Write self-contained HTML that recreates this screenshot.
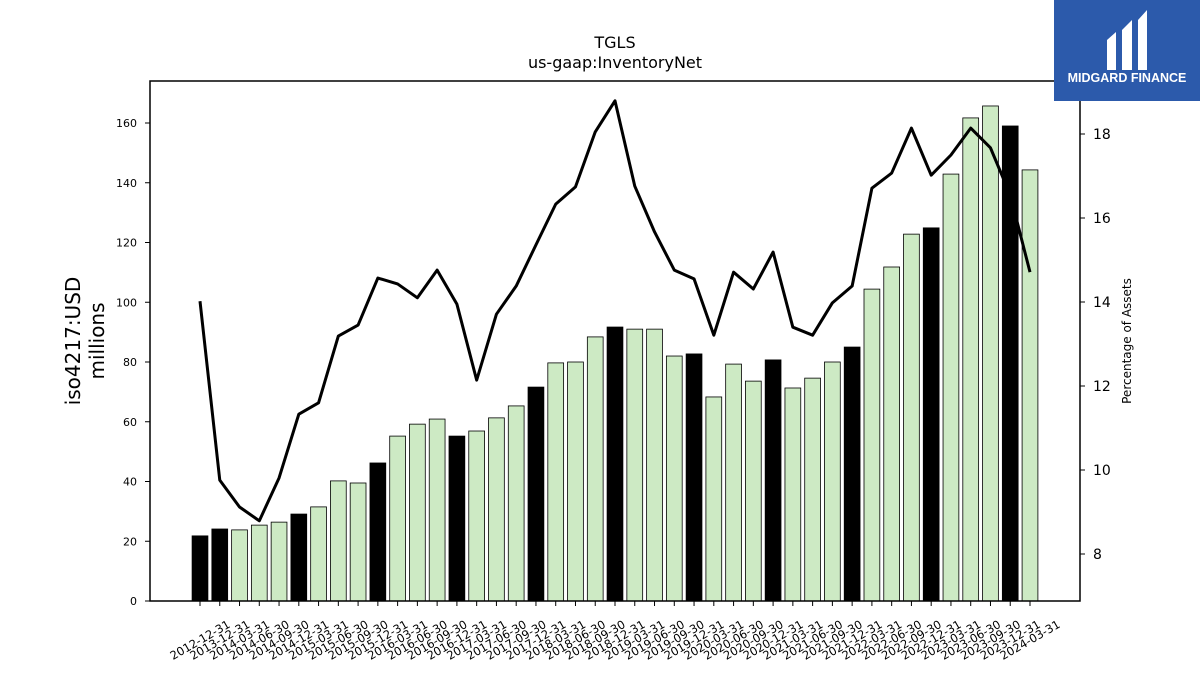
<!DOCTYPE html>
<html><head><meta charset="utf-8"><style>
body{margin:0;background:#fff;}
svg{display:block;font-family:"DejaVu Sans","Liberation Sans",sans-serif;}
</style></head><body>
<svg id="c" width="1200" height="675" viewBox="0 0 1200 675">
<text x="615" y="48" font-size="16" text-anchor="middle">TGLS</text>
<text x="615" y="68" font-size="16" text-anchor="middle">us-gaap:InventoryNet</text>
<g id="bars"></g>
<g id="line"></g>
<rect x="150" y="81" width="930" height="520" fill="none" stroke="#000" stroke-width="1.5"/>
<g id="yl"></g>
<g id="yr"></g>
<g id="xl"></g>
<text transform="translate(80,341) rotate(-90)" font-size="20" text-anchor="middle"><tspan x="0" dy="0">iso4217:USD</tspan><tspan x="0" dy="24">millions</tspan></text>
<text transform="translate(1131,341) rotate(-90)" font-size="12" text-anchor="middle">Percentage of Assets</text>
<g>
<rect x="1054" y="0" width="146" height="101" fill="#2c5aab"/>
<path d="M1107 40 L1116 32 L1116 70 L1107 70 Z M1122 30 L1132 20 L1132 70 L1122 70 Z M1138 20 L1147 10 L1147 70 L1138 70 Z" fill="#fff"/>
<text x="1127" y="82" font-size="12.5" font-weight="bold" fill="#fff" text-anchor="middle" font-family="Liberation Sans, sans-serif">MIDGARD FINANCE</text>
</g>
</svg>
<script>
const categories=["2012-12-31","2013-12-31","2014-03-31","2014-06-30","2014-09-30","2014-12-31","2015-03-31","2015-06-30","2015-09-30","2015-12-31","2016-03-31","2016-06-30","2016-09-30","2016-12-31","2017-03-31","2017-06-30","2017-09-30","2017-12-31","2018-03-31","2018-06-30","2018-09-30","2018-12-31","2019-03-31","2019-06-30","2019-09-30","2019-12-31","2020-03-31","2020-06-30","2020-09-30","2020-12-31","2021-03-31","2021-06-30","2021-09-30","2021-12-31","2022-03-31","2022-06-30","2022-09-30","2022-12-31","2023-03-31","2023-06-30","2023-09-30","2023-12-31","2024-03-31"];
const inventory=[21.8,24.1,23.8,25.4,26.4,29.1,31.5,40.2,39.5,46.2,55.2,59.2,60.9,55.2,56.9,61.3,65.3,71.6,79.7,80.0,88.4,91.7,91.0,91.0,82.0,82.7,68.3,79.3,73.6,80.7,71.3,74.6,80.0,85.0,104.4,111.8,122.8,124.9,142.9,161.7,165.7,159.0,144.3];
const pctAssets=[14.02,9.76,9.12,8.79,9.81,11.33,11.6,13.19,13.45,14.57,14.43,14.1,14.76,13.95,12.14,13.71,14.38,15.36,16.33,16.74,18.05,18.79,16.76,15.67,14.76,14.55,13.21,14.71,14.31,15.19,13.4,13.21,13.98,14.38,16.71,17.07,18.14,17.02,17.5,18.14,17.67,16.55,14.71];
const leftTicks=[0,20,40,60,80,100,120,140,160];
const rightTicks=[8,10,12,14,16,18];
const NS="http://www.w3.org/2000/svg";
const x0=200,x1=1030;
const X=i=>x0+(x1-x0)*i/(categories.length-1);
const YL=v=>601-v*(601-123)/160;
const YR=v=>554-(v-8)*42;
function mk(t,a,p){const e=document.createElementNS(NS,t);for(const k in a)e.setAttribute(k,a[k]);p.appendChild(e);return e;}
const bars=document.getElementById('bars');
const bw=(x1-x0)/(categories.length-1)*0.8;
inventory.forEach((v,i)=>{
 const annual=categories[i].endsWith("12-31");
 const r=mk('rect',{x:X(i)-bw/2,y:YL(v),width:bw,height:601-YL(v),fill:annual?'#000':'#cdeac4',stroke:'#000','stroke-width':0.8},bars);
 
 
});
const lg=document.getElementById('line');
const p=mk('polyline',{points:pctAssets.map((v,i)=>X(i)+','+YR(v)).join(' '),fill:'none',stroke:'#000','stroke-width':3,'stroke-linejoin':'round'},lg);


const yl=document.getElementById('yl');
leftTicks.forEach(v=>{
 mk('line',{x1:145,x2:150,y1:YL(v),y2:YL(v),stroke:'#000'},yl);
 const t=mk('text',{x:137,y:YL(v)+4,'font-size':11,'text-anchor':'end'},yl);t.textContent=v;
 
 
});
const yr=document.getElementById('yr');
rightTicks.forEach(v=>{
 mk('line',{x1:1080,x2:1085,y1:YR(v),y2:YR(v),stroke:'#000'},yr);
 const t=mk('text',{x:1093,y:YR(v)+5,'font-size':14},yr);t.textContent=v;
 
 
});
const xl=document.getElementById('xl');
categories.forEach((c,i)=>{
 mk('line',{x1:X(i),x2:X(i),y1:601,y2:606,stroke:'#000'},xl);
 const t=mk('text',{transform:`translate(${X(i)},${640}) rotate(-30)`,'font-size':11.5,'text-anchor':'middle',dy:4},xl);t.textContent=c;
 
 
});
</script>
</body></html>
